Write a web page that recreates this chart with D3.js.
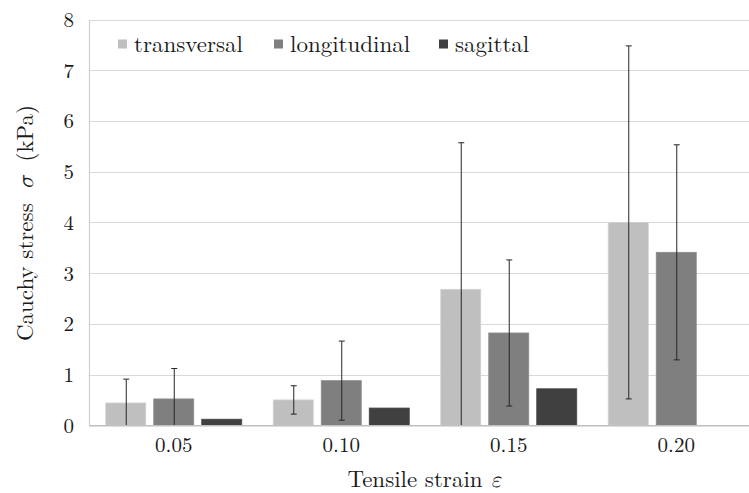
<!DOCTYPE html>
<html>
<head>
<meta charset="utf-8">
<script src="https://cdn.jsdelivr.net/npm/d3@7"></script>
<style>
  html, body { margin: 0; padding: 0; background: #fff; }
  svg { display: block; }
</style>
</head>
<body>
<svg id="chart" width="749" height="493"></svg>
<script>
// Tensile strain levels and mean Cauchy stress (kPa) per direction
const categories = ["0.05", "0.10", "0.15", "0.20"];
const seriesNames = ["transversal", "longitudinal", "sagittal"];
const transversal = [0.44, 0.50, 2.68, 4.00];
const longitudinal = [0.52, 0.88, 1.82, 3.41];
const sagittal = [0.12, 0.34, 0.72, null];
// Standard deviations (null = no error bar)
const transversalErr = [0.47, 0.28, 2.89, 3.48];
const longitudinalErr = [0.60, 0.78, 1.44, 2.12];
const sagittalErr = [null, null, null, null];
const yTicks = [0, 1, 2, 3, 4, 5, 6, 7, 8];

const colors = ["#bfbfbf", "#7f7f7f", "#404040"];
const values = [transversal, longitudinal, sagittal];
const errors = [transversalErr, longitudinalErr, sagittalErr];

const FONT = '"Latin Modern Roman", "CMU Serif", "Liberation Serif", serif';
const GREEK = '"Latin Modern Math", "CMU Serif", "DejaVu Serif", serif';
const TEXT_COLOR = "#1a1a1a";

const svg = d3.select("#chart");
const plot = { left: 90, right: 760, top: 19.5, bottom: 425.3 };

const y = d3.scaleLinear().domain([0, 8]).range([plot.bottom, plot.top]);
const x0 = d3.scaleBand().domain(categories).range([plot.left, plot.right]).padding(0);
const groupW = 136;
const x1 = d3.scaleBand().domain(seriesNames).range([0, groupW]).paddingInner(1 / 6).paddingOuter(0);

// horizontal gridlines
svg.append("g")
  .selectAll("line")
  .data(yTicks.filter(d => d > 0))
  .join("line")
  .attr("x1", plot.left).attr("x2", plot.right)
  .attr("y1", d => Math.round(y(d)) + 0.5).attr("y2", d => Math.round(y(d)) + 0.5)
  .attr("stroke", "#d9d9d9").attr("stroke-width", 1.2);

// left axis line
svg.append("line")
  .attr("x1", plot.left - 0.5).attr("x2", plot.left - 0.5)
  .attr("y1", plot.top).attr("y2", plot.bottom)
  .attr("stroke", "#d0d0d0").attr("stroke-width", 1.2);

// y tick labels
const yAxis = d3.axisLeft(y).tickValues(yTicks).tickSize(0).tickPadding(16).tickFormat(d3.format("d"));
const gy = svg.append("g").attr("transform", `translate(${plot.left},0)`).call(yAxis);
gy.select(".domain").remove();
gy.attr("font-family", null).attr("font-size", null);
gy.selectAll("text")
  .style("font-family", FONT).style("font-size", "21px").style("fill", TEXT_COLOR)
  .attr("dy", "0.33em");

// bars
const groups = svg.append("g")
  .selectAll("g")
  .data(categories)
  .join("g")
  .attr("transform", d => `translate(${x0(d) + (x0.bandwidth() - groupW) / 2},0)`);

seriesNames.forEach((s, si) => {
  groups.each(function (c, ci) {
    const v = values[si][ci];
    if (v == null) return;
    d3.select(this).append("rect")
      .attr("x", x1(s))
      .attr("y", y(v))
      .attr("width", x1.bandwidth())
      .attr("height", y(0) - y(v))
      .attr("fill", colors[si])
      .attr("stroke", d3.color(colors[si]).brighter(0.25))
      .attr("stroke-width", 0.8);
  });
});

// bottom axis line
svg.append("line")
  .attr("x1", plot.left - 1).attr("x2", plot.right)
  .attr("y1", plot.bottom + 0.5).attr("y2", plot.bottom + 0.5)
  .attr("stroke", "#bfbfbf").attr("stroke-width", 1.6);

// error bars
seriesNames.forEach((s, si) => {
  groups.each(function (c, ci) {
    const v = values[si][ci];
    const e = errors[si][ci];
    if (v == null || e == null) return;
    const g = d3.select(this);
    const cx = Math.round(x1(s) + x1.bandwidth() / 2) + 0.5;
    const hi = v + e;
    const lo = Math.max(0, v - e);
    const col = "#262626";
    g.append("line")
      .attr("x1", cx).attr("x2", cx)
      .attr("y1", y(hi)).attr("y2", y(lo))
      .attr("stroke", col).attr("stroke-width", 1);
    g.append("line")
      .attr("x1", cx - 3).attr("x2", cx + 3)
      .attr("y1", y(hi)).attr("y2", y(hi))
      .attr("stroke", col).attr("stroke-width", 1);
    if (v - e > 0) {
      g.append("line")
        .attr("x1", cx - 3).attr("x2", cx + 3)
        .attr("y1", y(lo)).attr("y2", y(lo))
        .attr("stroke", col).attr("stroke-width", 1);
    }
  });
});

// x tick labels
const xAxis = d3.axisBottom(x0).tickSize(0).tickPadding(0);
const gx = svg.append("g").attr("transform", `translate(0,${plot.bottom})`).call(xAxis);
gx.select(".domain").remove();
gx.attr("font-family", null).attr("font-size", null);
gx.selectAll("text")
  .style("font-family", FONT).style("font-size", "21px").style("fill", TEXT_COLOR)
  .attr("y", 27).attr("dy", null);

// axis titles
const xt = svg.append("text")
  .attr("x", 425).attr("y", 486.5)
  .attr("text-anchor", "middle")
  .style("font-family", FONT).style("font-size", "23px").style("fill", TEXT_COLOR);
xt.append("tspan").text("Tensile strain ");
xt.append("tspan").style("font-family", GREEK).style("font-style", "italic").text("ε");

const yt = svg.append("text")
  .attr("transform", "translate(33,223) rotate(-90)")
  .attr("text-anchor", "middle")
  .style("font-family", FONT).style("font-size", "23px").style("fill", TEXT_COLOR);
yt.append("tspan").text("Cauchy stress");
yt.append("tspan").attr("dx", 14).style("font-family", GREEK).style("font-style", "italic").text("σ");
yt.append("tspan").attr("dx", 14).text("(kPa)");

// legend
const legendX = [118, 274, 439];
const legend = svg.append("g")
  .selectAll("g")
  .data(seriesNames)
  .join("g")
  .attr("transform", (d, i) => `translate(${legendX[i]},0)`);
legend.append("rect")
  .attr("x", 0).attr("y", 39.5).attr("width", 9).attr("height", 9)
  .attr("fill", (d, i) => colors[i]);
legend.append("text")
  .attr("x", 16).attr("y", 51.5)
  .style("font-family", FONT).style("font-size", "23px").style("fill", TEXT_COLOR)
  .text(d => d);
</script>
</body>
</html>
